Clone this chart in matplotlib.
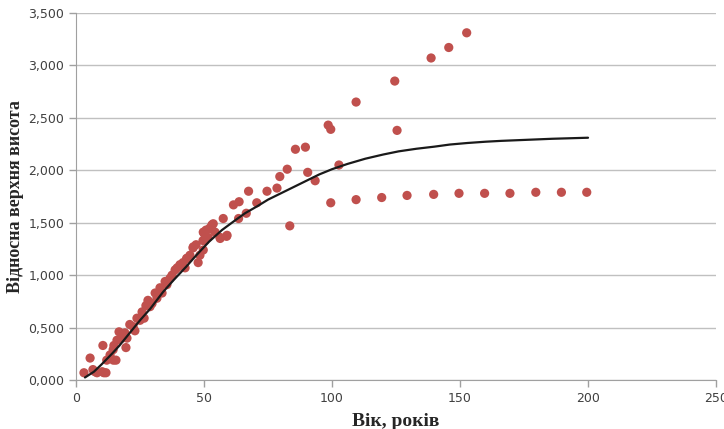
import matplotlib as mpl
mpl.use('Agg')
import matplotlib.pyplot as plt
from matplotlib.ticker import FuncFormatter, MultipleLocator

# observed relative top height vs age
age = [3.1, 5.5, 6.6, 8.2, 10.2, 10.9, 11.7, 10.5, 12.0, 13.3, 14.5, 14.8, 15.6,
       16.0, 16.8, 18.0, 19.1, 19.5, 19.9, 21.0, 22.3, 23.0, 23.8, 25.0, 25.8,
       26.6, 27.3, 28.1, 28.9, 29.7, 30.9, 31.6, 32.8, 33.6, 34.8, 35.5, 36.7,
       37.5, 38.7, 39.5, 40.6, 41.8, 42.6, 43.4, 44.5, 45.7, 46.9, 47.7, 48.4,
       49.6, 50.0, 50.8, 51.6, 53.1, 54.3, 56.3, 59.0,
       45.8, 50.4, 53.0, 53.6, 49.7, 56.3, 58.8, 57.5, 61.5, 63.7, 63.5, 66.5,
       67.4, 70.6, 74.6, 78.5, 79.6, 82.5, 83.5, 85.7, 89.6, 90.5, 93.4, 98.5,
       99.5, 99.5, 102.7, 109.4, 109.4, 119.4, 124.5, 125.4, 129.3, 138.7,
       139.7, 145.6, 149.6, 152.6, 159.6, 169.5, 179.6, 189.6, 199.5,
       43.2, 49.7, 52.3, 14.6, 7.4, 28.2]
height = [0.07, 0.21, 0.10, 0.07, 0.08, 0.07, 0.07, 0.33, 0.19, 0.24, 0.29, 0.33, 0.19,
          0.38, 0.46, 0.40, 0.45, 0.31, 0.40, 0.53, 0.51, 0.47, 0.59, 0.57, 0.65,
          0.59, 0.71, 0.76, 0.70, 0.73, 0.83, 0.78, 0.88, 0.83, 0.94, 0.91, 0.97,
          1.00, 1.05, 1.07, 1.10, 1.12, 1.07, 1.16, 1.19, 1.26, 1.29, 1.12, 1.19,
          1.33, 1.40, 1.43, 1.36, 1.48, 1.41, 1.35, 1.38,
          1.27, 1.33, 1.44, 1.49, 1.41, 1.36, 1.37, 1.54, 1.67, 1.70, 1.54, 1.59,
          1.80, 1.69, 1.80, 1.83, 1.94, 2.01, 1.47, 2.20, 2.22, 1.98, 1.90, 2.43,
          2.39, 1.69, 2.05, 2.65, 1.72, 1.74, 2.85, 2.38, 1.76, 3.07,
          1.77, 3.17, 1.78, 3.31, 1.78, 1.78, 1.79, 1.79, 1.79,
          1.16, 1.24, 1.45, 0.19, 0.08, 0.73]

# fitted growth curve
curve_age = [3.5, 7, 10, 14, 17, 21, 25, 29, 34, 38, 43, 47, 52, 57, 62, 66,
             71, 75, 80, 85, 90, 95, 100, 106, 113, 120, 126, 133, 140, 146,
             153, 160, 166, 173, 179, 186, 193, 200]
curve_height = [0.025, 0.08, 0.15, 0.25, 0.33, 0.45, 0.57, 0.68, 0.84, 0.95,
                1.08, 1.19, 1.32, 1.43, 1.52, 1.59, 1.66, 1.72, 1.78, 1.84,
                1.90, 1.96, 2.01, 2.06, 2.11, 2.15, 2.18, 2.205, 2.225, 2.245,
                2.26, 2.272, 2.28, 2.287, 2.293, 2.30, 2.305, 2.31]

fig = plt.figure(figsize=(7.24, 4.29), dpi=100)
plt.subplots_adjust(left=0.105, right=0.989, bottom=0.114, top=0.970)
ax = fig.add_subplot(111)

ax.scatter(age, height, s=44, color='#C0504D', edgecolors='none', zorder=3)
ax.plot(curve_age, curve_height, color='#1a1a1a', lw=1.6, zorder=4,
        solid_capstyle='round', solid_joinstyle='round')

ax.set_xlim(0, 250)
ax.set_ylim(0, 3.5)
ax.xaxis.set_major_locator(MultipleLocator(50))
ax.yaxis.set_major_locator(MultipleLocator(0.5))
ax.yaxis.set_major_formatter(FuncFormatter(lambda v, p: ('%.3f' % v).replace('.', ',')))
ax.grid(axis='y', color='#c0c0c0', lw=1)
ax.set_axisbelow(True)

for s in ['top', 'right']:
    ax.spines[s].set_visible(False)
for s in ['left', 'bottom']:
    ax.spines[s].set_color('#a0a0a0')
ax.tick_params(colors='#a0a0a0', length=5, width=1, labelcolor='#404040',
               labelsize=9)

lab = dict(family='Liberation Serif', fontweight='bold', color='#262626')
ax.set_xlabel('Вік, років', labelpad=6, fontsize=14, **lab)
ax.set_ylabel('Відносна верхня висота', labelpad=3, fontsize=13, **lab)

fig.savefig('out.png', dpi=100)
